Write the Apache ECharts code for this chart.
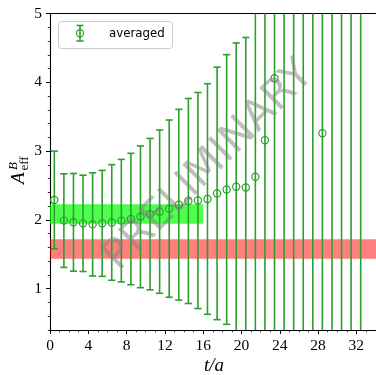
<!DOCTYPE html>
<html>
<head>
<meta charset="utf-8">
<script src="https://cdn.jsdelivr.net/npm/echarts@6/dist/echarts.min.js"></script>
<style>
html,body{margin:0;padding:0;background:#fff;}
#c{width:376px;height:375px;}
</style>
</head>
<body>
<div id="c"></div>
<script>
// ---- data ----
const tPos = [0.45,1.45,2.45,3.45,4.45,5.45,6.45,7.45,8.45,9.45,10.45,11.45,12.45,13.45,14.45,15.45,16.45,
              17.45,18.45,19.45,20.45,21.45,22.45,23.45,24.45,25.45,26.45,27.45,28.45,29.45,30.45,31.45,32.45];
const aEff = [2.29,1.99,1.965,1.95,1.935,1.95,1.963,1.99,2.013,2.045,2.084,2.12,2.164,2.221,2.275,2.282,2.304,
              2.385,2.442,2.482,2.472,2.627,3.157,4.058,6.3,-0.6,5.9,7.2,3.259,-1.3,8.4,5.6,-2.1];
const aErr = [0.71,0.68,0.71,0.70,0.75,0.77,0.84,0.89,0.955,1.03,1.10,1.187,1.288,1.386,1.49,1.57,1.676,
              1.835,1.96,2.09,2.18,2.9,3.6,4.5,7.0,7.5,8.0,9.0,5.2,10.0,12.0,10.5,12.5];
const greenBand = {x0: 0, x1: 16, y0: 1.945, y1: 2.227};
const redBand = {y0: 1.436, y1: 1.718};
const xTicks = [0,4,8,12,16,20,24,28,32];
const xMinor = [1,2,3,5,6,7,9,10,11,13,14,15,17,18,19,21,22,23,25,26,27,29,30,31,33];
const yTicks = [1,2,3,4,5];
const yMinor = [0.4,0.6,0.8,1.2,1.4,1.6,1.8,2.2,2.4,2.6,2.8,3.2,3.4,3.6,3.8,4.2,4.4,4.6,4.8];
const xRange = [0, 34.05];
const yRange = [0.4, 5];
const seriesName = 'averaged';

// ---- chart ----
const GREEN = '#2ca02c';
const chart = echarts.init(document.getElementById('c'), null, {renderer: 'canvas'});
const data = tPos.map((t, i) => [t, aEff[i], aErr[i]]);
const tickFont = {fontFamily: 'Liberation Serif', fontSize: 15.5, color: '#000'};

function renderErr(params, api) {
  const x = api.value(0), y = api.value(1), e = api.value(2);
  const pc = api.coord([x, y]);
  const ph = api.coord([x, y + e]);
  const pl = api.coord([x, y - e]);
  const cs = params.coordSys;
  const top = cs.y, bot = cs.y + cs.height;
  const ch = [];
  const st = {stroke: GREEN, lineWidth: 1.6};
  const yh = Math.max(ph[1], top), yl = Math.min(pl[1], bot);
  if (yh < yl) ch.push({type: 'line', shape: {x1: pc[0], y1: yh, x2: pc[0], y2: yl}, style: st});
  const cw = 3.6;
  if (ph[1] >= top && ph[1] <= bot) ch.push({type: 'line', shape: {x1: pc[0]-cw, y1: ph[1], x2: pc[0]+cw, y2: ph[1]}, style: st});
  if (pl[1] >= top && pl[1] <= bot) ch.push({type: 'line', shape: {x1: pc[0]-cw, y1: pl[1], x2: pc[0]+cw, y2: pl[1]}, style: st});
  if (pc[1] >= top && pc[1] <= bot) ch.push({type: 'circle', shape: {cx: pc[0], cy: pc[1], r: 3.6}, style: {fill: 'none', stroke: GREEN, lineWidth: 1.2}});
  return {type: 'group', children: ch};
}

const option = {
  animation: false,
  grid: {left: 50, top: 13.5, width: 328, height: 316.5, containLabel: false},
  xAxis: [
    {type: 'value', min: xRange[0], max: xRange[1], position: 'bottom',
     axisLine: {show: true, onZero: false, lineStyle: {color: '#000', width: 1.1}},
     axisTick: {show: true, customValues: xTicks, length: 4, lineStyle: {color: '#000', width: 1}},
     axisLabel: {customValues: xTicks, margin: 8, ...tickFont},
     splitLine: {show: false}},
    {type: 'value', min: xRange[0], max: xRange[1], position: 'bottom', gridIndex: 0,
     axisLine: {show: false},
     axisTick: {show: true, customValues: xMinor, length: 2.2, lineStyle: {color: '#000', width: 0.8}},
     axisLabel: {show: false}, splitLine: {show: false}},
    {type: 'value', min: xRange[0], max: xRange[1], position: 'top',
     axisLine: {show: true, onZero: false, lineStyle: {color: '#000', width: 1.1}},
     axisTick: {show: false}, axisLabel: {show: false}, splitLine: {show: false}}
  ],
  yAxis: [
    {type: 'value', min: yRange[0], max: yRange[1], position: 'left',
     axisLine: {show: true, onZero: false, lineStyle: {color: '#000', width: 1.1}},
     axisTick: {show: true, customValues: yTicks, length: 4, lineStyle: {color: '#000', width: 1}},
     axisLabel: {customValues: yTicks, margin: 8, ...tickFont},
     splitLine: {show: false}},
    {type: 'value', min: yRange[0], max: yRange[1], position: 'left',
     axisLine: {show: false},
     axisTick: {show: true, customValues: yMinor, length: 2.2, lineStyle: {color: '#000', width: 0.8}},
     axisLabel: {show: false}, splitLine: {show: false}}
  ],
  series: [
    {type: 'line', data: [], z: 1, silent: true,
     markArea: {silent: true, data: [
       [{xAxis: greenBand.x0, yAxis: greenBand.y0, itemStyle: {color: 'rgba(0,255,0,0.7)'}}, {xAxis: greenBand.x1, yAxis: greenBand.y1}],
       [{yAxis: redBand.y0, itemStyle: {color: 'rgba(255,0,0,0.5)'}}, {yAxis: redBand.y1}]
     ]}},
    {type: 'custom', name: seriesName, data: data, renderItem: renderErr, z: 3, silent: true,
     encode: {x: 0, y: 1}}
  ],
  graphic: [
    // legend
    {type: 'rect', shape: {x: 58.5, y: 21.5, width: 114, height: 27, r: 3},
     style: {fill: 'rgba(255,255,255,0.8)', stroke: '#cccccc', lineWidth: 1}, z: 50},
    {type: 'line', shape: {x1: 80, y1: 25.5, x2: 80, y2: 41}, style: {stroke: GREEN, lineWidth: 1.6}, z: 51},
    {type: 'line', shape: {x1: 76.4, y1: 25.5, x2: 83.6, y2: 25.5}, style: {stroke: GREEN, lineWidth: 1.6}, z: 51},
    {type: 'line', shape: {x1: 76.4, y1: 41, x2: 83.6, y2: 41}, style: {stroke: GREEN, lineWidth: 1.6}, z: 51},
    {type: 'circle', shape: {cx: 80, cy: 33.3, r: 3.6}, style: {fill: 'none', stroke: GREEN, lineWidth: 1.2}, z: 51},
    {type: 'text', x: 109, y: 34, style: {text: seriesName, font: '11.8px "DejaVu Sans"', fill: '#000', verticalAlign: 'middle'}, z: 51},
    // y axis label A^B_eff (rotated; local +y points to screen right)
    {type: 'group', x: 25.5, y: 184, rotation: Math.PI/2, z: 60, children: [
      {type: 'text', x: 0, y: -6.5, style: {text: 'A', font: 'italic 19px "Liberation Serif"', fill: '#000', verticalAlign: 'middle'}},
      {type: 'text', x: 14, y: -12.4, style: {text: 'B', font: 'italic 13px "Liberation Serif"', fill: '#000', verticalAlign: 'middle'}},
      {type: 'text', x: 13.5, y: -0.9, style: {text: 'eff', font: '13px "Liberation Serif"', fill: '#000', verticalAlign: 'middle'}}
    ]},
    // x axis label
    {type: 'text', x: 214, y: 366, style: {text: 't/a', font: 'italic 19px "Liberation Serif"', fill: '#000', align: 'center', verticalAlign: 'middle'}, z: 60},
    // watermark
    {type: 'text', x: 209, y: 166, rotation: Math.PI/4, z: 100,
     style: {text: 'PRELIMINARY', font: '42px "DejaVu Sans"', fill: 'rgba(128,128,128,0.5)', align: 'center', verticalAlign: 'middle'}}
  ]
};
chart.setOption(option);
</script>
</body>
</html>
